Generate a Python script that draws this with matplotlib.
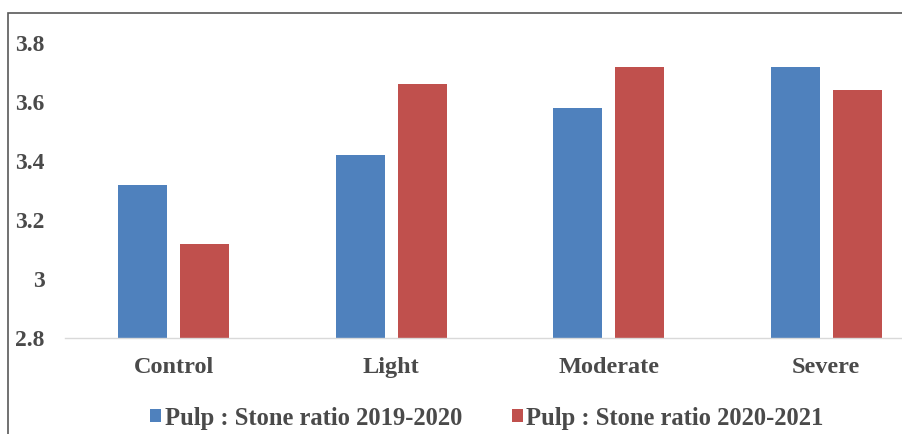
import matplotlib
matplotlib.use("Agg")
import matplotlib.pyplot as plt
import numpy as np
from matplotlib.patches import Rectangle

categories = ["Control", "Light", "Moderate", "Severe"]
ratio_2019_2020 = [3.32, 3.42, 3.58, 3.72]
ratio_2020_2021 = [3.12, 3.66, 3.72, 3.64]
series_labels = ["Pulp : Stone ratio 2019-2020", "Pulp : Stone ratio 2020-2021"]
y_ticks = [2.8, 3.0, 3.2, 3.4, 3.6, 3.8]
y_tick_labels = ["2.8", "3", "3.2", "3.4", "3.6", "3.8"]

blue = "#4F81BD"
red = "#C0504D"
text_color = "#4A4A4A"

plt.rcParams["font.family"] = ["Liberation Serif", "DejaVu Serif"]

W, H = 903, 434
fig = plt.figure(figsize=(W / 100, H / 100), dpi=100)

# plot area: x from 65px, spills past the right edge; y from 2.8 (338px) to 3.8 (43px)
left, right = 65 / W, 935 / W
bottom, top_y = 1 - 338 / H, 1 - 43 / H
ax = fig.add_axes([left, bottom, right - left, top_y - bottom])

x = np.arange(len(categories))
w = 0.225
off = 0.143
ax.bar(x - off, ratio_2019_2020, width=w, color=blue, label=series_labels[0])
ax.bar(x + off, ratio_2020_2021, width=w, color=red, label=series_labels[1])

ax.set_xlim(-0.5, 3.5)
ax.set_ylim(2.8, 3.8)
ax.set_yticks(y_ticks)
ax.set_yticklabels(y_tick_labels)
ax.set_xticks(x)
ax.set_xticklabels(categories)

for s in ["top", "right", "left"]:
    ax.spines[s].set_visible(False)
ax.spines["bottom"].set_color("#D9D9D9")
ax.spines["bottom"].set_linewidth(1.0)
ax.tick_params(axis="y", length=0, colors=text_color, labelsize=17, pad=14.5)
ax.tick_params(axis="x", length=0, colors=text_color, labelsize=17.5, pad=13.5)
for lab in ax.get_yticklabels() + ax.get_xticklabels():
    lab.set_color(text_color)
    lab.set_fontweight("bold")

leg = fig.legend(loc="center", bbox_to_anchor=(487 / W, 1 - 418 / H), ncol=2,
                 frameon=False, handlelength=0.45, handleheight=0.45,
                 handletextpad=0.15, columnspacing=2.0,
                 prop={"size": 17.7, "weight": "bold"})
for t in leg.get_texts():
    t.set_color(text_color)

# outer chart frame (top and left edges visible)
fig.patches.append(Rectangle((8 / W, -0.1), 1.2, (1 - 13 / H) + 0.1,
                             transform=fig.transFigure, fill=False,
                             edgecolor="#595959", linewidth=1.2))

fig.savefig("out.png", dpi=100)
